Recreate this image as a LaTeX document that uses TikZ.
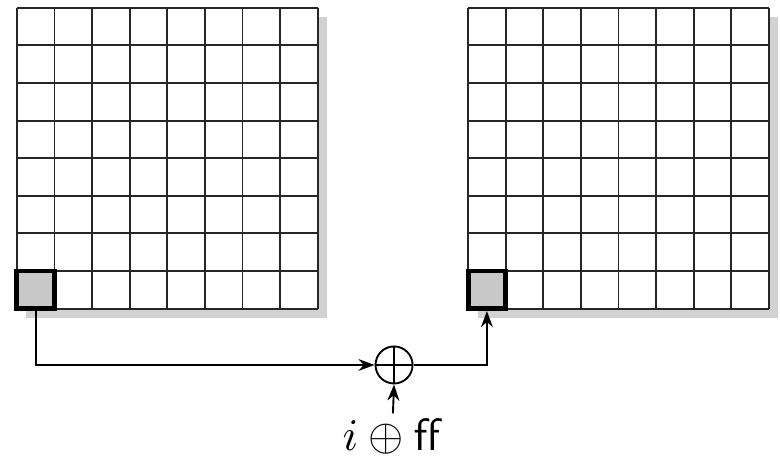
\documentclass[tikz,border=0pt]{standalone}
\usetikzlibrary{arrows.meta,positioning}
\definecolor{shadowgray}{RGB}{210,210,210}
\definecolor{cellgray}{RGB}{200,200,200}

\begin{document}
\begin{tikzpicture}[
    x=0.35cm, y=0.35cm,
    gridline/.style={draw=black!85, line width=0.5pt, step=0.35cm},
    cell/.style={draw, line width=1.3pt, fill=cellgray, minimum size=0.35cm, inner sep=0pt},
    xorop/.style={draw, circle, line width=0.5pt, minimum size=0.345cm, inner sep=0pt,
      path picture={\draw[line width=0.5pt] (path picture bounding box.north) -- (path picture bounding box.south)
        (path picture bounding box.west) -- (path picture bounding box.east);}},
    arrow/.style={-{Stealth[length=1.5mm,width=1.1mm]}, line width=0.5pt}
  ]
    \useasboundingbox (0,0) rectangle (20.745,12.207);
    % the two 8x8 tables with their shadows
    \foreach \gx in {0.45,12.45} {
      \begin{scope}[shift={(\gx,4)}]
        \fill[shadowgray] (0.25,-0.25) rectangle (8.25,7.75);
        \fill[white] (0,0) rectangle (8,8);
        \draw[gridline] (0,0) grid (8,8);
      \end{scope}
    }
    \node[cell] (src) at (0.95,4.5) {};
    \node[cell] (dst) at (12.95,4.5) {};
    \node[xorop] (xor) at (10.48,2.5) {};
    \node[inner sep=1pt, scale=1.2] (key) at (10.45,0.6) {$i \oplus \mathsf{ff}$};
    \draw[arrow] (src.south) |- (xor.west);
    \draw[arrow] (xor.east) -| (dst.south);
    \draw[arrow] (key.north) -- (xor.south);
  \end{tikzpicture}
\end{document}
